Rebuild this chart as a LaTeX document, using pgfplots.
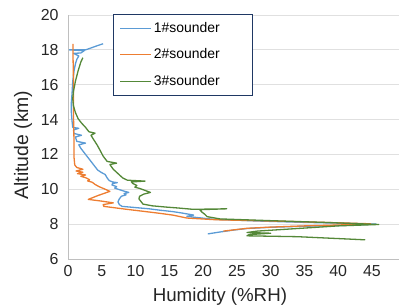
\documentclass[border=0pt]{standalone}
\usepackage{pgfplots}
\pgfplotsset{compat=1.18}
\usepackage{fontspec}
\setmainfont{Liberation Sans}
\definecolor{cblue}{RGB}{91,155,213}
\definecolor{corange}{RGB}{237,125,49}
\definecolor{cgreen}{RGB}{84,136,56}
\definecolor{cnavy}{RGB}{31,56,100}
\begin{document}
\begin{tikzpicture}[x=1bp,y=1bp]
\begin{axis}[
  at={(68bp,46bp)}, anchor=south west,
  scale only axis, width=331bp, height=244bp,
  xmin=0, xmax=49, ymin=6, ymax=20,
  xtick={0,5,...,45}, ytick={6,8,...,20},
  ymajorgrids, grid style={color=black!12, line width=0.8bp},
  axis x line*=bottom, axis y line*=left,
  axis line style={-, color=black!25, line width=0.8bp},
  major tick length=0pt,
  tick label style={font=\fontsize{16}{16}\selectfont, color=black!85},
  xticklabel style={yshift=-3bp},
  yticklabel style={xshift=-6bp},
  /pgf/number format/assume math mode=true,
  xlabel={Humidity (\%RH)},
  ylabel={Altitude (km)},
  xlabel style={font=\fontsize{18.8}{18.8}\selectfont, color=black!85, at={(axis description cs:0.459,0)}, anchor=base, yshift=-42bp},
  ylabel style={font=\fontsize{19.5}{19.5}\selectfont, color=black!85, at={(axis description cs:-0.136,0.467)}, anchor=center},
  legend style={at={(axis description cs:0.136,1.004)}, anchor=north west,
    draw=cnavy, line width=1bp, fill=white,
    font=\fontsize{14}{14}\selectfont, inner xsep=6bp, inner ysep=7bp, row sep=13bp,
    nodes={inner sep=0pt, text height=10.5bp, text depth=3bp}},
  legend cell align=left,
  legend image code/.code={\draw[#1] (0bp,0bp) -- (31bp,0bp); \path (33bp,0bp);},
  every axis plot/.append style={line width=1.3bp, line join=round},
]
\addplot[cblue, no markers] coordinates {
(5.2,18.35)(4.2,18.22)(3.2,18.08)(2.6,18.0)(0.2,18.0)(2.4,17.95)(1.9,17.82)(0.8,17.8)(1.6,17.65)(1.3,17.45)(1.1,17.2)(0.9,16.8)(0.7,16.2)(0.6,15.5)(0.5,15.0)(0.5,14.4)(0.6,13.9)(0.7,13.55)(1.6,13.5)(0.8,13.4)(0.9,13.2)(2.0,13.1)(1.1,13.0)(1.3,12.75)(2.6,12.65)(1.6,12.55)(1.9,12.35)(2.4,12.1)(2.9,11.85)(3.4,11.6)(3.9,11.35)(4.4,11.1)(5.0,10.95)(5.5,10.85)(5.8,10.65)(6.1,10.5)(6.6,10.42)(7.3,10.38)(6.6,10.33)(6.5,10.25)(7.2,10.15)(6.9,10.07)(7.6,9.98)(8.4,9.88)(9.0,9.82)(8.3,9.75)(8.6,9.68)(7.9,9.6)(7.6,9.45)(7.4,9.28)(7.6,9.12)(8.0,9.02)(10.0,8.95)(12.0,8.88)(13.6,8.8)(15.5,8.72)(17.0,8.63)(18.6,8.52)(17.6,8.45)(18.6,8.4)(21.5,8.28)(28,8.18)(35,8.1)(41,8.05)(45.6,8.0)(41,7.93)(35,7.88)(30,7.82)(26.5,7.75)(24.5,7.66)(22.5,7.55)(20.7,7.44)
};
\addlegendentry{\makebox[93bp][l]{1\#sounder}}
\addplot[corange, no markers] coordinates {
(0.75,18.35)(0.75,17.5)(0.8,16.5)(0.8,15.5)(0.8,14.5)(0.85,13.5)(0.9,12.5)(0.9,11.8)(1.0,11.4)(1.3,11.25)(2.2,11.15)(1.2,11.05)(2.2,10.98)(1.4,10.9)(2.6,10.82)(1.9,10.75)(2.7,10.65)(3.2,10.55)(2.9,10.48)(3.6,10.4)(4.0,10.28)(4.6,10.15)(5.4,10.02)(6.2,9.88)(4.5,9.65)(3.0,9.42)(5.0,9.32)(6.7,9.22)(5.2,9.12)(5.3,9.02)(8.7,8.85)(11.5,8.72)(13.6,8.62)(15.5,8.52)(17.6,8.35)(22,8.25)(30,8.18)(38,8.1)(44.8,8.02)(40,7.95)(35,7.9)(30,7.83)(26.5,7.76)(24.5,7.67)(23,7.6)
};
\addlegendentry{\makebox[93bp][l]{2\#sounder}}
\addplot[cgreen, no markers] coordinates {
(2.2,17.55)(1.9,17.3)(1.5,16.8)(1.1,16.2)(0.8,15.6)(0.7,15.2)(0.8,14.8)(1.1,14.4)(1.5,14.05)(2.0,13.8)(2.6,13.55)(3.1,13.3)(4.0,13.22)(3.4,13.1)(3.8,12.85)(4.3,12.55)(4.8,12.2)(5.2,11.9)(5.8,11.6)(7.2,11.5)(6.2,11.42)(6.7,11.15)(7.4,10.9)(8.1,10.65)(8.8,10.52)(11.4,10.47)(9.4,10.42)(9.6,10.33)(10.2,10.22)(9.9,10.12)(10.6,10.05)(11.3,9.95)(12.2,9.82)(11.2,9.72)(10.6,9.6)(10.5,9.45)(10.8,9.3)(11.1,9.15)(12.5,9.05)(14.5,8.98)(16.5,8.92)(18.5,8.85)(23.5,8.88)(19.5,8.83)(19.8,8.7)(20.3,8.55)(20.6,8.43)(22.5,8.3)(30,8.2)(38,8.1)(46,7.98)(40,7.9)(34,7.75)(28,7.6)(26.5,7.52)(30,7.48)(26.8,7.4)(26.5,7.33)(34,7.28)(44,7.1)
};
\addlegendentry{\makebox[93bp][l]{3\#sounder}}
\end{axis}
\pgfresetboundingbox
\useasboundingbox (0bp,0bp) rectangle (399bp,305bp);
\end{tikzpicture}
\end{document}
